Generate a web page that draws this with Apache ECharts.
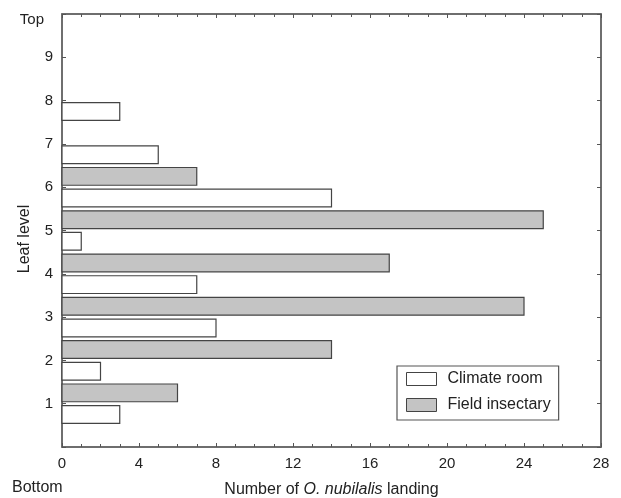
<!DOCTYPE html>
<html>
<head>
<meta charset="utf-8">
<script src="https://cdn.jsdelivr.net/npm/echarts@6/dist/echarts.min.js"></script>
<style>
html,body{margin:0;padding:0;background:#fff;}
#chart{width:621px;height:498px;}
</style>
</head>
<body>
<div id="chart"></div>
<script>
var levels = [1, 2, 3, 4, 5, 6, 7, 8, 9];
var climateRoom = [3, 2, 8, 7, 1, 14, 5, 3, 0];
var fieldInsectary = [6, 14, 24, 17, 25, 7, 0, 0, 0];
var yTickLabels = ['', '1', '2', '3', '4', '5', '6', '7', '8', '9', 'Top'];
var seriesNames = ['Climate room', 'Field insectary'];

var FONT = '"Liberation Sans", Arial, sans-serif';
var TXT = '#222';
var AX = '#555';

function makeData(vals) {
  var out = [];
  for (var i = 0; i < levels.length; i++) {
    if (vals[i] > 0) out.push([vals[i], levels[i]]);
  }
  return out;
}

function barRenderer(offset) {
  return function (params, api) {
    var v = api.value(0), lvl = api.value(1);
    var p1 = api.coord([0, lvl + offset + 0.205]);
    var p2 = api.coord([v, lvl + offset - 0.205]);
    return {
      type: 'rect',
      shape: {x: p1[0], y: p1[1], width: p2[0] - p1[0], height: p2[1] - p1[1]},
      style: api.style()
    };
  };
}

function tickStyle() { return {show: true, inside: true, length: 4, lineStyle: {color: AX, width: 1}}; }
function minorStyle() { return {show: true, splitNumber: 4, length: 3, lineStyle: {color: AX, width: 1}}; }
function lineStyle() { return {show: true, onZero: false, lineStyle: {color: '#666', width: 1.5}}; }

var chart = echarts.init(document.getElementById('chart'), null, {renderer: 'canvas'});

chart.setOption({
  animation: false,
  backgroundColor: '#fff',
  textStyle: {fontFamily: FONT},
  grid: {left: 62, right: 20, top: 14, bottom: 51, containLabel: false, outerBoundsMode: 'none',
         show: true, borderColor: '#666', borderWidth: 1.5, backgroundColor: 'transparent'},
  legend: {
    orient: 'vertical',
    left: 397, top: 366,
    width: 150,
    padding: [5, 8, 7, 9],
    itemGap: 10,
    itemWidth: 30, itemHeight: 13,
    backgroundColor: '#fff',
    borderColor: AX, borderWidth: 1.2,
    textStyle: {fontFamily: FONT, fontSize: 16, color: TXT, padding: [0, 0, 0, 6]},
    data: [
      {name: seriesNames[0], icon: 'rect', itemStyle: {color: '#ffffff', borderColor: '#444', borderWidth: 1}},
      {name: seriesNames[1], icon: 'rect', itemStyle: {color: '#c4c4c4', borderColor: '#444', borderWidth: 1}}
    ]
  },
  xAxis: [{
    type: 'value', min: 0, max: 28, interval: 4,
    position: 'bottom',
    name: '{n|Number of }{i|O. nubilalis}{n| landing}',
    nameLocation: 'middle', nameGap: 35,
    nameTextStyle: {
      rich: {
        n: {fontFamily: FONT, fontSize: 16, color: TXT},
        i: {fontFamily: FONT, fontSize: 16, color: TXT, fontStyle: 'italic'}
      }
    },
    axisLine: lineStyle(),
    axisTick: tickStyle(),
    minorTick: minorStyle(),
    splitLine: {show: false},
    axisLabel: {fontFamily: FONT, fontSize: 15, color: TXT, margin: 9}
  }, {
    type: 'value', min: 0, max: 28, interval: 4,
    position: 'top',
    axisLine: lineStyle(),
    axisTick: tickStyle(),
    minorTick: minorStyle(),
    splitLine: {show: false},
    axisLabel: {show: false}
  }],
  yAxis: [{
    type: 'value', min: 0, max: 10, interval: 1,
    position: 'left',
    axisLine: lineStyle(),
    axisTick: tickStyle(),
    splitLine: {show: false},
    axisLabel: {
      fontFamily: FONT, fontSize: 15, color: TXT, margin: 9,
      formatter: function (v) {
        var s = yTickLabels[v] || '';
        return v === 10 ? '{t|' + s + '}' : s;
      },
      rich: {t: {fontFamily: FONT, fontSize: 15, color: TXT, padding: [12, 9, 0, 0]}}
    }
  }, {
    type: 'value', min: 0, max: 10, interval: 1,
    position: 'right',
    axisLine: lineStyle(),
    axisTick: tickStyle(),
    splitLine: {show: false},
    axisLabel: {show: false}
  }],
  graphic: [{
    type: 'text', left: 12, top: 480,
    style: {text: 'Bottom', font: '16px ' + FONT, fill: TXT}
  }, {
    type: 'text', x: 25, y: 239, rotation: Math.PI / 2,
    style: {text: 'Leaf level', font: '16px ' + FONT, fill: TXT, align: 'center', verticalAlign: 'middle'}
  }],
  series: [{
    name: seriesNames[0],
    type: 'custom',
    renderItem: barRenderer(-0.25),
    encode: {x: 0, y: 1},
    itemStyle: {color: '#ffffff', borderColor: '#444', borderWidth: 1.2},
    data: makeData(climateRoom)
  }, {
    name: seriesNames[1],
    type: 'custom',
    renderItem: barRenderer(0.25),
    encode: {x: 0, y: 1},
    itemStyle: {color: '#c4c4c4', borderColor: '#444', borderWidth: 1.2},
    data: makeData(fieldInsectary)
  }]
});
</script>
</body>
</html>
